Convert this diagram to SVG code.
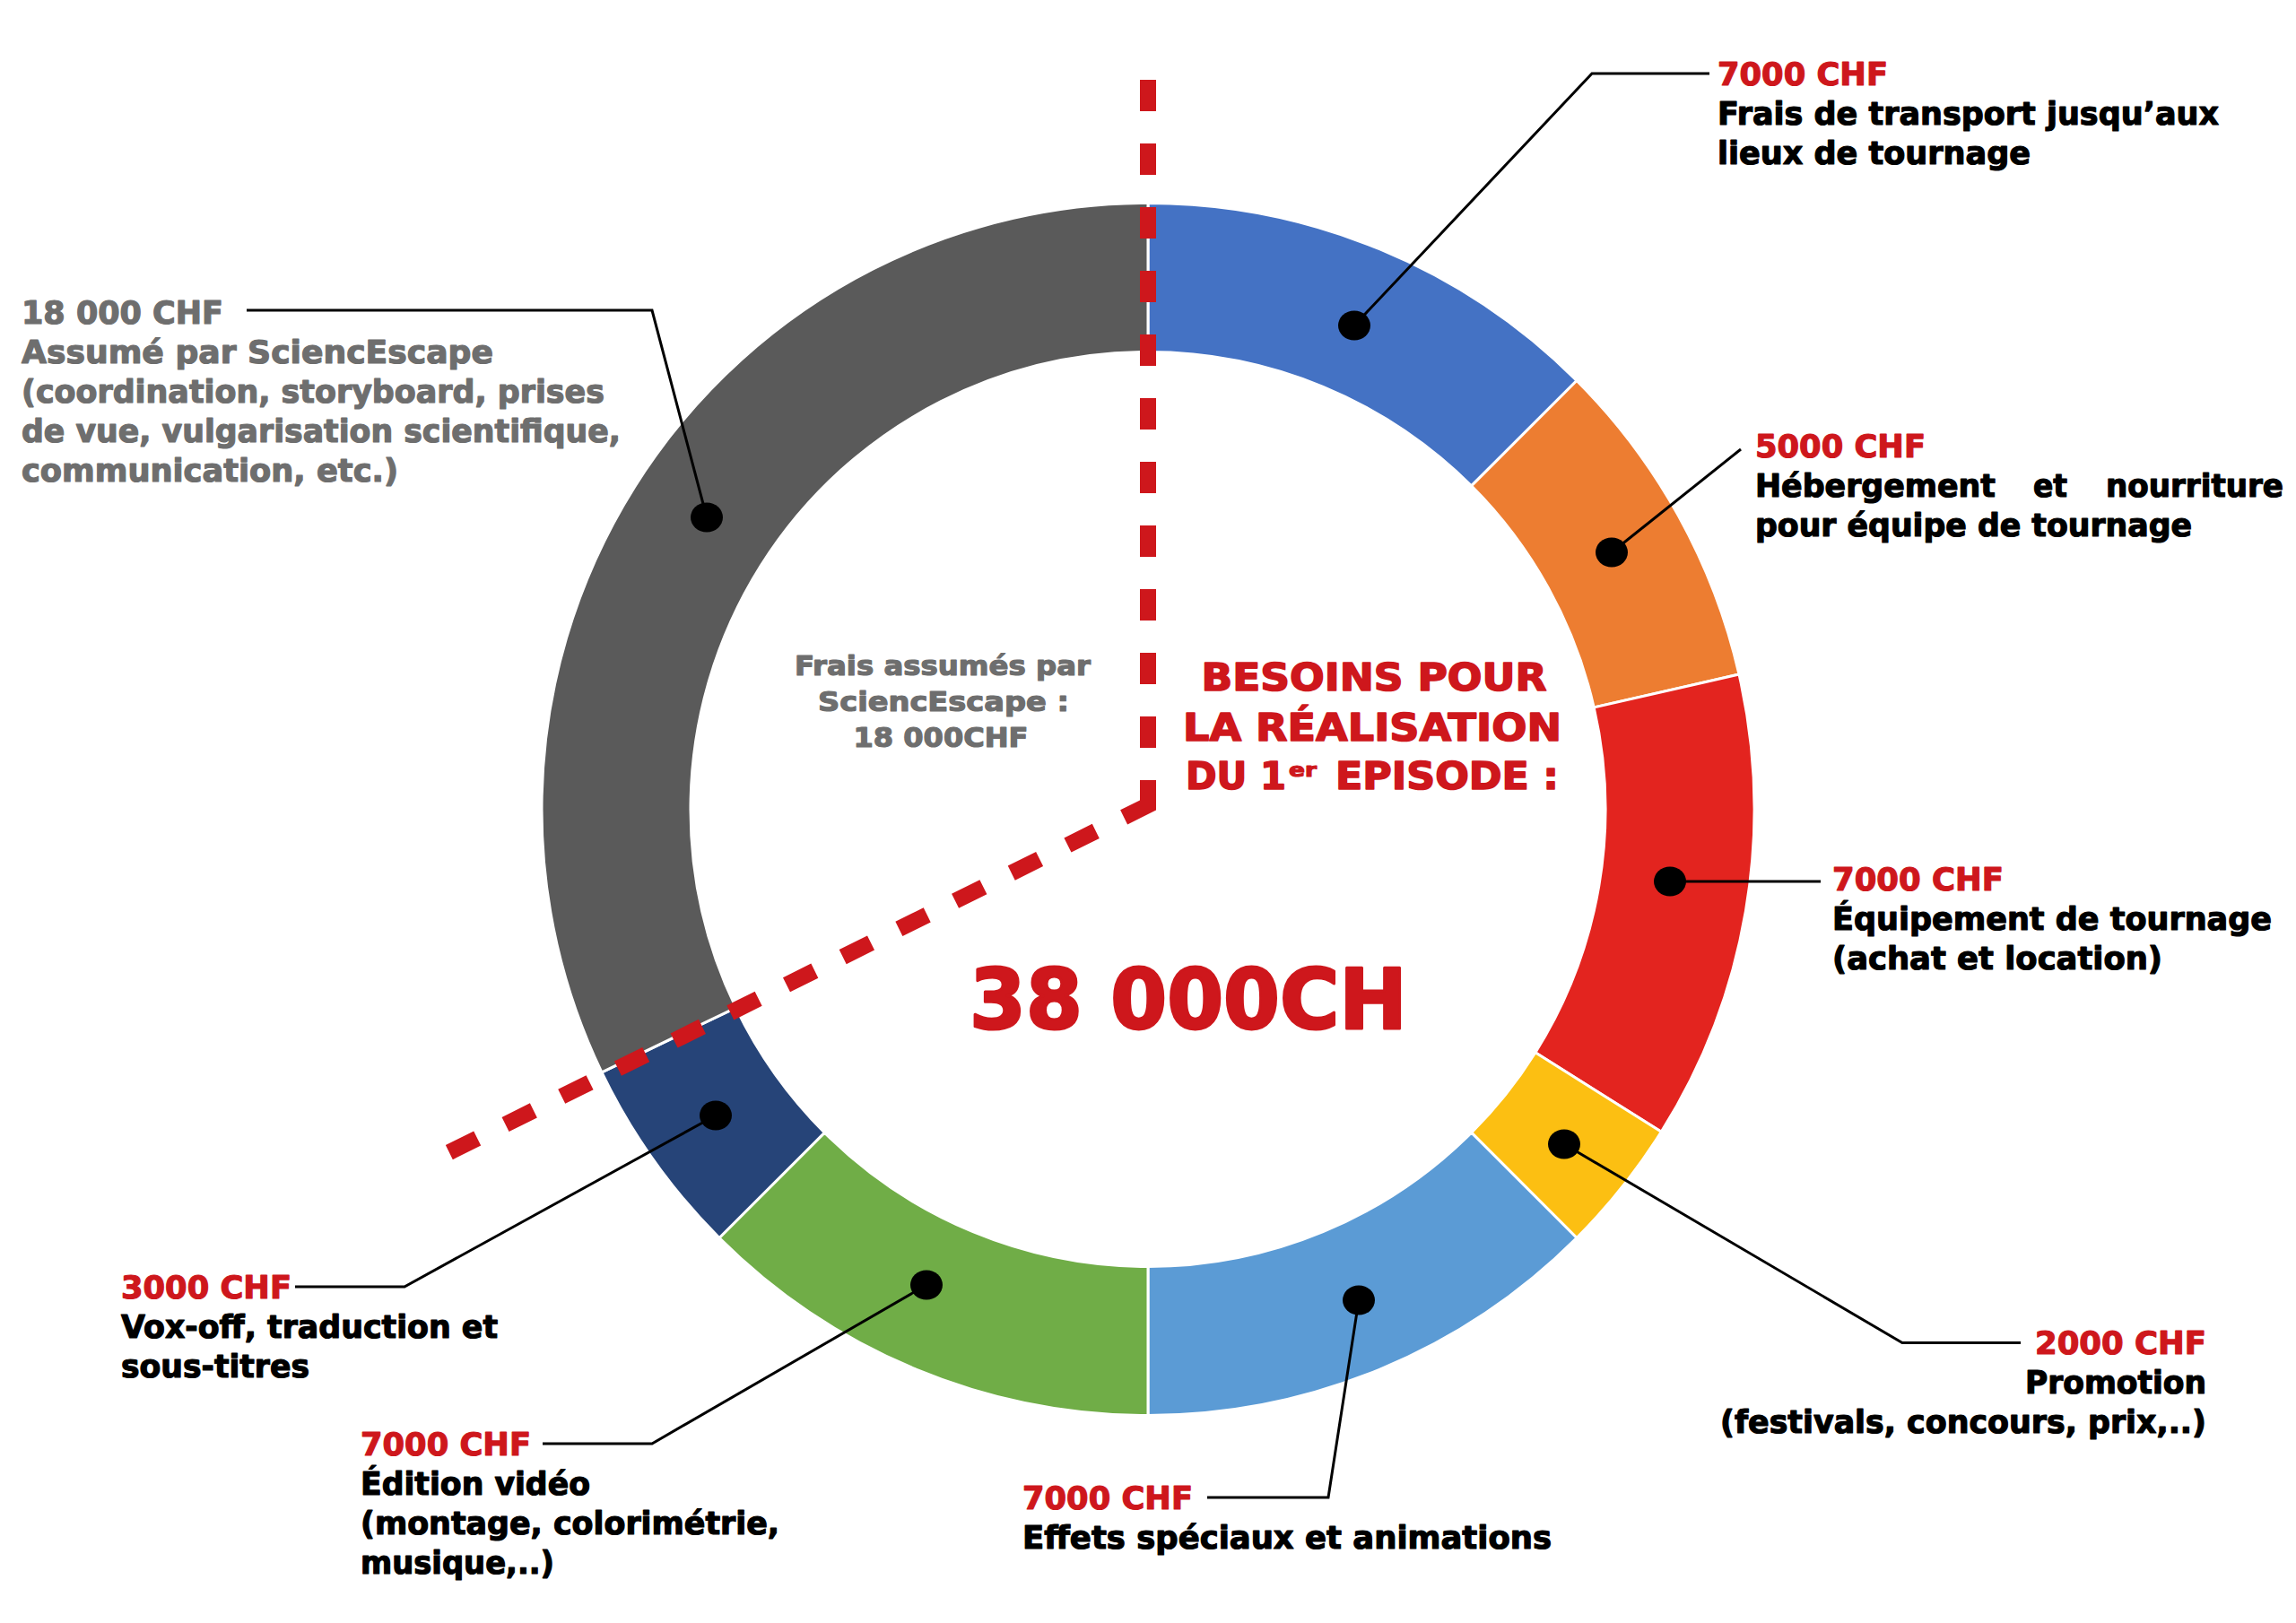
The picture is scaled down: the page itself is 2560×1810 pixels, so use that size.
<svg xmlns="http://www.w3.org/2000/svg" width="2560" height="1810" viewBox="0 0 2560 1810">
<style>
text{font-family:"DejaVu Sans","Liberation Sans",sans-serif;font-weight:bold;stroke-width:1.2;stroke-linejoin:round;}
.lbl{font-size:35px;}
.amt{fill:#CE171C;stroke:#CE171C;}
.blk{fill:#000000;stroke:#000000;}
.gry{fill:#6E6E6E;stroke:#6E6E6E;}
.mid{stroke-width:1.6;}
.big{stroke-width:3;}
.lead{fill:none;stroke:#000000;stroke-width:3;stroke-linejoin:miter;}
.seg{stroke:#FFFFFF;stroke-width:3;stroke-linejoin:round;}
.dot{fill:#000000;}
.dash{fill:none;stroke:#CE171C;stroke-width:18;stroke-linejoin:miter;}
</style>
<rect x="0" y="0" width="2560" height="1810" fill="#FFFFFF"/>

<g id="ring">
  <path id="seg-transport" class="seg" fill="#4472C4" d="M1280,226.5 A676,676 0 0 1 1758,424.5 L1640.62,541.88 A510,510 0 0 0 1280,392.5 Z"/>
  <path id="seg-hebergement" class="seg" fill="#ED7D31" d="M1758,424.5 A676,676 0 0 1 1939.05,752.08 L1777.21,789.01 A510,510 0 0 0 1640.62,541.88 Z"/>
  <path id="seg-equipement" class="seg" fill="#E3241F" d="M1939.05,752.08 A676,676 0 0 1 1852.39,1262.15 L1711.83,1173.84 A510,510 0 0 0 1777.21,789.01 Z"/>
  <path id="seg-promotion" class="seg" fill="#FCBF12" d="M1852.39,1262.15 A676,676 0 0 1 1758,1380.5 L1640.62,1263.12 A510,510 0 0 0 1711.83,1173.84 Z"/>
  <path id="seg-effets" class="seg" fill="#5B9BD5" d="M1758,1380.5 A676,676 0 0 1 1280,1578.5 L1280,1412.5 A510,510 0 0 0 1640.62,1263.12 Z"/>
  <path id="seg-edition" class="seg" fill="#70AD47" d="M1280,1578.5 A676,676 0 0 1 802,1380.5 L919.38,1263.12 A510,510 0 0 0 1280,1412.5 Z"/>
  <path id="seg-voxoff" class="seg" fill="#264478" d="M802,1380.5 A676,676 0 0 1 670.94,1195.81 L820.51,1123.78 A510,510 0 0 0 919.38,1263.12 Z"/>
  <path id="seg-sciencescape" class="seg" fill="#5A5A5A" d="M670.94,1195.81 A676,676 0 0 1 1280,226.5 L1280,392.5 A510,510 0 0 0 820.51,1123.78 Z"/>
</g>

<g id="divider">
  <path class="dash" d="M1280,89 L1280,898 L497,1287" stroke-dasharray="35 36 35 36 35 36 35 36 35 36 35 36 35 36 35 36 35 36 35 36 35 36 58 35 35 35 35 35 35 35 35 35 35 35 35 35 35 35 35 35 35 35 35 35 35 35 35 35 35 35 35 35"/>
</g>

<g id="connectors">
  <polyline class="lead" points="275,346 727,346 788,577"/>
  <polyline class="lead" points="1906,82 1775,82 1510,363"/>
  <polyline class="lead" points="1941,501 1797,616"/>
  <polyline class="lead" points="1862,983 2030,983"/>
  <polyline class="lead" points="1744,1276 2121,1497.5 2253,1497.5"/>
  <polyline class="lead" points="1515,1450 1481,1670 1346,1670"/>
  <polyline class="lead" points="1033,1433 727,1610 605,1610"/>
  <polyline class="lead" points="798,1244 451,1435 329,1435"/>
</g>

<g id="node-sciencescape">
  <ellipse class="dot" cx="788" cy="577" rx="18" ry="16.5"/>
  <text class="lbl gry" x="24" y="361" textLength="225" lengthAdjust="spacingAndGlyphs">18 000 CHF</text>
  <text class="lbl gry" x="24" y="405" textLength="526" lengthAdjust="spacingAndGlyphs">Assumé par SciencEscape</text>
  <text class="lbl gry" x="24" y="449" textLength="650" lengthAdjust="spacingAndGlyphs">(coordination, storyboard, prises</text>
  <text class="lbl gry" x="24" y="493" textLength="668" lengthAdjust="spacingAndGlyphs">de vue, vulgarisation scientifique,</text>
  <text class="lbl gry" x="24" y="537" textLength="420" lengthAdjust="spacingAndGlyphs">communication, etc.)</text>
</g>

<g id="node-transport">
  <ellipse class="dot" cx="1510" cy="363" rx="18" ry="16.5"/>
  <text class="lbl amt" x="1915" y="95" textLength="190" lengthAdjust="spacingAndGlyphs">7000 CHF</text>
  <text class="lbl blk" x="1915" y="139" textLength="559" lengthAdjust="spacingAndGlyphs">Frais de transport jusqu’aux</text>
  <text class="lbl blk" x="1915" y="183" textLength="349" lengthAdjust="spacingAndGlyphs">lieux de tournage</text>
</g>

<g id="node-hebergement">
  <ellipse class="dot" cx="1797" cy="616" rx="18" ry="16.5"/>
  <text class="lbl amt" x="1957" y="510" textLength="190" lengthAdjust="spacingAndGlyphs">5000 CHF</text>
  <text class="lbl blk" x="1957" y="554" textLength="268" lengthAdjust="spacingAndGlyphs">Hébergement</text>
  <text class="lbl blk" x="2267" y="554" textLength="38" lengthAdjust="spacingAndGlyphs">et</text>
  <text class="lbl blk" x="2546" y="554" text-anchor="end" textLength="198" lengthAdjust="spacingAndGlyphs">nourriture</text>
  <text class="lbl blk" x="1957" y="598" textLength="487" lengthAdjust="spacingAndGlyphs">pour équipe de tournage</text>
</g>

<g id="node-equipement">
  <ellipse class="dot" cx="1862" cy="983" rx="18" ry="16.5"/>
  <text class="lbl amt" x="2043" y="993" textLength="191" lengthAdjust="spacingAndGlyphs">7000 CHF</text>
  <text class="lbl blk" x="2043" y="1037" textLength="490" lengthAdjust="spacingAndGlyphs">Équipement de tournage</text>
  <text class="lbl blk" x="2043" y="1081" textLength="368" lengthAdjust="spacingAndGlyphs">(achat et location)</text>
</g>

<g id="node-promotion">
  <ellipse class="dot" cx="1744" cy="1276" rx="18" ry="16.5"/>
  <text class="lbl amt" x="2460" y="1510" text-anchor="end" textLength="191" lengthAdjust="spacingAndGlyphs">2000 CHF</text>
  <text class="lbl blk" x="2460" y="1554" text-anchor="end" textLength="202" lengthAdjust="spacingAndGlyphs">Promotion</text>
  <text class="lbl blk" x="2460" y="1598" text-anchor="end" textLength="542" lengthAdjust="spacingAndGlyphs">(festivals, concours, prix,..)</text>
</g>

<g id="node-effets">
  <ellipse class="dot" cx="1515" cy="1450" rx="18" ry="16.5"/>
  <text class="lbl amt" x="1140" y="1683" textLength="190" lengthAdjust="spacingAndGlyphs">7000 CHF</text>
  <text class="lbl blk" x="1140" y="1727" textLength="590" lengthAdjust="spacingAndGlyphs">Effets spéciaux et animations</text>
</g>

<g id="node-edition">
  <ellipse class="dot" cx="1033" cy="1433" rx="18" ry="16.5"/>
  <text class="lbl amt" x="402" y="1623" textLength="190" lengthAdjust="spacingAndGlyphs">7000 CHF</text>
  <text class="lbl blk" x="402" y="1667" textLength="256" lengthAdjust="spacingAndGlyphs">Édition vidéo</text>
  <text class="lbl blk" x="402" y="1711" textLength="467" lengthAdjust="spacingAndGlyphs">(montage, colorimétrie,</text>
  <text class="lbl blk" x="402" y="1755" textLength="216" lengthAdjust="spacingAndGlyphs">musique,..)</text>
</g>

<g id="node-voxoff">
  <ellipse class="dot" cx="798" cy="1244" rx="18" ry="16.5"/>
  <text class="lbl amt" x="135" y="1448" textLength="190" lengthAdjust="spacingAndGlyphs">3000 CHF</text>
  <text class="lbl blk" x="135" y="1492" textLength="420" lengthAdjust="spacingAndGlyphs">Vox-off, traduction et</text>
  <text class="lbl blk" x="135" y="1536" textLength="210" lengthAdjust="spacingAndGlyphs">sous-titres</text>
</g>

<g id="center-sciencescape">
  <text class="gry" x="1051" y="753" font-size="30" text-anchor="middle" textLength="330" lengthAdjust="spacingAndGlyphs">Frais assumés par</text>
  <text class="gry" x="1052" y="793" font-size="30" text-anchor="middle" textLength="280" lengthAdjust="spacingAndGlyphs">SciencEscape :</text>
  <text class="gry" x="1049" y="833" font-size="30" text-anchor="middle" textLength="195" lengthAdjust="spacingAndGlyphs">18 000CHF</text>
</g>

<g id="center-besoins">
  <text class="amt mid" x="1532" y="770" font-size="42" text-anchor="middle" textLength="385" lengthAdjust="spacingAndGlyphs">BESOINS POUR</text>
  <text class="amt mid" x="1530" y="826" font-size="42" text-anchor="middle" textLength="422" lengthAdjust="spacingAndGlyphs">LA RÉALISATION</text>
  <text class="amt mid" x="1322" y="880" font-size="42" textLength="112" lengthAdjust="spacingAndGlyphs">DU 1</text>
  <text class="amt" x="1437" y="866" font-size="22" textLength="31" lengthAdjust="spacingAndGlyphs">er</text>
  <text class="amt mid" x="1489" y="880" font-size="42" textLength="249" lengthAdjust="spacingAndGlyphs">EPISODE :</text>
  <text class="amt big" x="1325" y="1147" font-size="93" text-anchor="middle" textLength="488" lengthAdjust="spacingAndGlyphs">38 000CH</text>
</g>
</svg>
